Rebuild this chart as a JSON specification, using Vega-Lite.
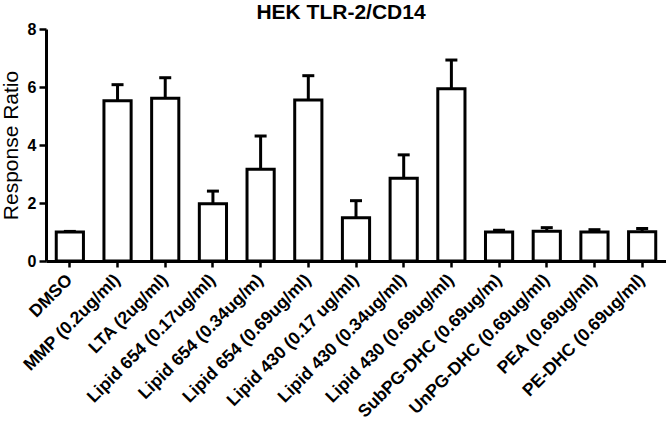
{
  "$schema": "https://vega.github.io/schema/vega-lite/v6.json",
  "width": 620,
  "height": 232,
  "autosize": {"type": "none"},
  "padding": {"left": 46, "top": 29, "right": 0, "bottom": 160},
  "background": "white",
  "title": {
    "text": "HEK TLR-2/CD14",
    "font": "Liberation Sans",
    "fontSize": 21,
    "fontWeight": "bold",
    "color": "black",
    "anchor": "middle",
    "dx": -15,
    "offset": -2
  },
  "config": {
    "view": {"stroke": null},
    "font": "Liberation Sans"
  },
  "data": {
    "values": [
      {"name": "DMSO", "value": 1.0, "upper": 1.02},
      {"name": "MMP (0.2ug/ml)", "value": 5.53, "upper": 6.08},
      {"name": "LTA (2ug/ml)", "value": 5.61, "upper": 6.32},
      {"name": "Lipid 654 (0.17ug/ml)", "value": 1.97, "upper": 2.41},
      {"name": "Lipid 654 (0.34ug/m)", "value": 3.16, "upper": 4.31},
      {"name": "Lipid 654 (0.69ug/ml)", "value": 5.55, "upper": 6.39},
      {"name": "Lipid 430 (0.17 ug/ml)", "value": 1.49, "upper": 2.08},
      {"name": "Lipid 430 (0.34ug/ml)", "value": 2.85, "upper": 3.66},
      {"name": "Lipid 430 (0.69ug/ml)", "value": 5.94, "upper": 6.93},
      {"name": "SubPG-DHC (0.69ug/m)", "value": 1.0, "upper": 1.06},
      {"name": "UnPG-DHC (0.69ug/ml)", "value": 1.03, "upper": 1.15},
      {"name": "PEA (0.69ug/ml)", "value": 1.0, "upper": 1.08},
      {"name": "PE-DHC (0.69ug/ml)", "value": 1.01, "upper": 1.12}
    ]
  },
  "encoding": {
    "x": {
      "field": "name",
      "type": "nominal",
      "sort": null,
      "scale": {"paddingInner": 0, "paddingOuter": 0},
      "axis": {
        "title": null,
        "labelAngle": -45,
        "labelFont": "Liberation Sans",
        "labelFontSize": 17.5,
        "labelFontWeight": "bold",
        "labelColor": "black",
        "labelBaseline": "middle",
        "labelPadding": 10,
        "labelLimit": 300,
        "domainColor": "black",
        "domainWidth": 3,
        "tickColor": "black",
        "tickWidth": 2.5,
        "tickSize": 6
      }
    }
  },
  "layer": [
    {
      "mark": {"type": "rule", "color": "black", "strokeWidth": 3},
      "encoding": {
        "y": {"field": "value", "type": "quantitative"},
        "y2": {"field": "upper"}
      }
    },
    {
      "mark": {"type": "tick", "color": "black", "thickness": 3, "size": 12, "opacity": 1},
      "encoding": {
        "y": {"field": "upper", "type": "quantitative"}
      }
    },
    {
      "mark": {"type": "bar", "fill": "white", "stroke": "black", "strokeWidth": 3, "width": {"band": 0.57}},
      "encoding": {
        "y": {
          "field": "value",
          "type": "quantitative",
          "scale": {"domain": [0, 8], "nice": false},
          "axis": {
            "title": "Response Ratio",
            "titleFont": "Liberation Sans",
            "titleFontSize": 21,
            "titleFontWeight": "normal",
            "titleColor": "black",
            "titlePadding": 6,
            "values": [0, 2, 4, 6, 8],
            "grid": false,
            "labelFont": "Liberation Sans",
            "labelFontSize": 16,
            "labelFontWeight": "bold",
            "labelColor": "black",
            "labelPadding": 3,
            "domainColor": "black",
            "domainWidth": 3,
            "tickColor": "black",
            "tickWidth": 2.5,
            "tickSize": 7
          }
        }
      }
    }
  ]
}
